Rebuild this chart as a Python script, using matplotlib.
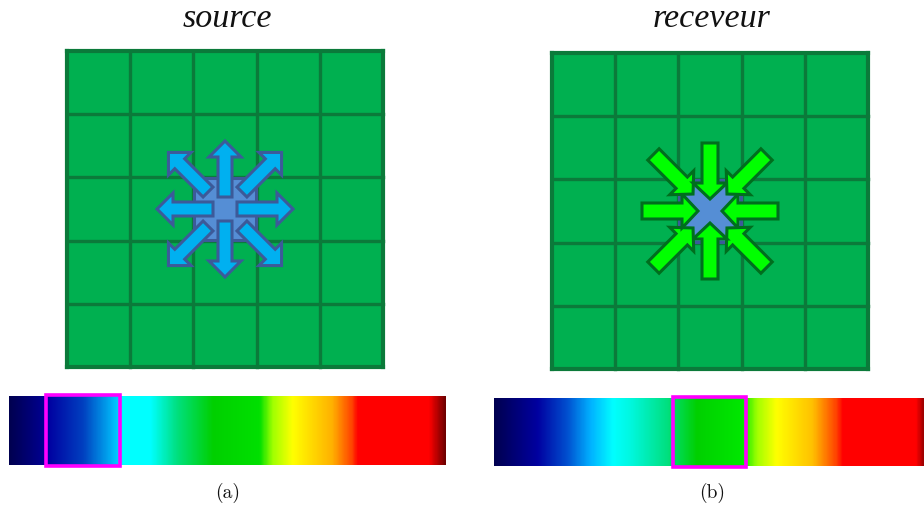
import numpy as np
import matplotlib.pyplot as plt
from matplotlib.patches import Rectangle, FancyArrow
from matplotlib.colors import LinearSegmentedColormap

# panel texts
titles = ['source', 'receveur']
captions = ['(a)', '(b)']

# 5x5 grid for each panel: top-left corner (px) and cell size
n_cells = 5
grid_origin = [(67, 52), (552, 54)]
cell = 63.2

# colour bar stops (fraction along the bar, colour)
stops_a = [(0.0, '#000050'), (0.078, '#000090'), (0.087, '#0000a0'), (0.169, '#0040c0'),
           (0.247, '#00c8ff'), (0.259, '#00ffff'), (0.323, '#00ffff'), (0.384, '#00e080'),
           (0.467, '#00d000'), (0.574, '#00e000'), (0.604, '#a0ff00'), (0.650, '#ffff00'),
           (0.741, '#ffb000'), (0.787, '#ff4000'), (0.799, '#ff0000'), (0.963, '#ff0000'),
           (1.0, '#700000')]
stops_b = [(0.0, '#000050'), (0.10, '#0000a0'), (0.17, '#0050d0'), (0.223, '#00b0ff'),
           (0.277, '#00ffff'), (0.316, '#00f8e0'), (0.402, '#00e080'), (0.472, '#00d000'),
           (0.579, '#00e800'), (0.612, '#a0ff00'), (0.658, '#ffff00'), (0.742, '#ffc000'),
           (0.798, '#ff4000'), (0.812, '#ff0000'), (0.984, '#ff0000'), (1.0, '#a00000')]
# highlighted range on each bar (fractions)
highlight = [(0.085, 0.254), (0.416, 0.586)]
# bar extents (x0, x1, y0, y1) in px
bar_ext = [(9, 446, 397, 466), (494, 924, 399, 467)]

grid_fill = '#00b050'
grid_line = '#0b7a3a'

fig = plt.figure(figsize=(9.24, 5.06), dpi=100)
ax = fig.add_axes([0, 0, 1, 1])
ax.set_xlim(0, 924)
ax.set_ylim(506, 0)
ax.axis('off')

def draw_grid(x0, y0):
    ax.add_patch(Rectangle((x0, y0), n_cells * cell, n_cells * cell,
                           facecolor=grid_fill, edgecolor='none', zorder=1))
    for i in range(n_cells + 1):
        lw = 3.0 if i in (0, n_cells) else 2.4
        ax.plot([x0 + i * cell] * 2, [y0, y0 + n_cells * cell], color=grid_line, lw=lw,
                zorder=2, solid_capstyle='projecting')
        ax.plot([x0, x0 + n_cells * cell], [y0 + i * cell] * 2, color=grid_line, lw=lw,
                zorder=2, solid_capstyle='projecting')

def draw_arrows(cx, cy, outward, fill, edge, w, hw, hl):
    for k in range(8):
        ang = np.deg2rad(45 * k)
        diag = k % 2 == 1
        r_in, r_out = (24, 80) if diag else (12, 68)
        ux, uy = np.cos(ang), np.sin(ang)
        if outward:
            sx, sy, ex, ey = cx + r_in * ux, cy + r_in * uy, cx + r_out * ux, cy + r_out * uy
        else:
            sx, sy, ex, ey = cx + r_out * ux, cy + r_out * uy, cx + r_in * ux, cy + r_in * uy
        ax.add_patch(FancyArrow(sx, sy, ex - sx, ey - sy, width=w, head_width=hw,
                                head_length=hl, length_includes_head=True,
                                facecolor=fill, edgecolor=edge, lw=2.2, zorder=5,
                                joinstyle='miter'))

for p, (x0, y0) in enumerate(grid_origin):
    draw_grid(x0, y0)
    cx, cy = x0 + 2.5 * cell, y0 + 2.5 * cell
    ax.add_patch(Rectangle((x0 + 2 * cell + 1, y0 + 2 * cell + 1), cell - 2, cell - 2,
                           facecolor='#558ed5', edgecolor='#3c5a99', lw=2.2, zorder=4))
    if p == 0:
        draw_arrows(cx, cy, True, '#00b0f0', '#3c5a99', 14, 32, 16)
    else:
        draw_arrows(cx, cy, False, '#00ff00', '#006e1e', 16, 34, 16)
    ax.text(cx + 2, 19, titles[p], ha='center', va='center', fontsize=24.5,
            family='Liberation Serif', style='italic', color='#111111')

for p, stops in enumerate([stops_a, stops_b]):
    cmap = LinearSegmentedColormap.from_list('bar%d' % p, stops, N=512)
    x0, x1, y0, y1 = bar_ext[p]
    ax.imshow(np.linspace(0, 1, 600)[None, :], cmap=cmap, aspect='auto',
              extent=(x0, x1, y1, y0), zorder=1, interpolation='bilinear')
    h0, h1 = highlight[p]
    ax.add_patch(Rectangle((x0 + h0 * (x1 - x0), y0 - 1), (h1 - h0) * (x1 - x0), y1 - y0 + 2,
                           facecolor='none', edgecolor='#ff00ff', lw=2.6, zorder=3))
    ax.text((x0 + x1) / 2 + (0 if p == 0 else 3), 493, captions[p], ha='center', va='center',
            fontsize=14, family='cmr10', color='#111111')

ax.set_xlim(0, 924)
ax.set_ylim(506, 0)
fig.savefig('out.png', dpi=100)
